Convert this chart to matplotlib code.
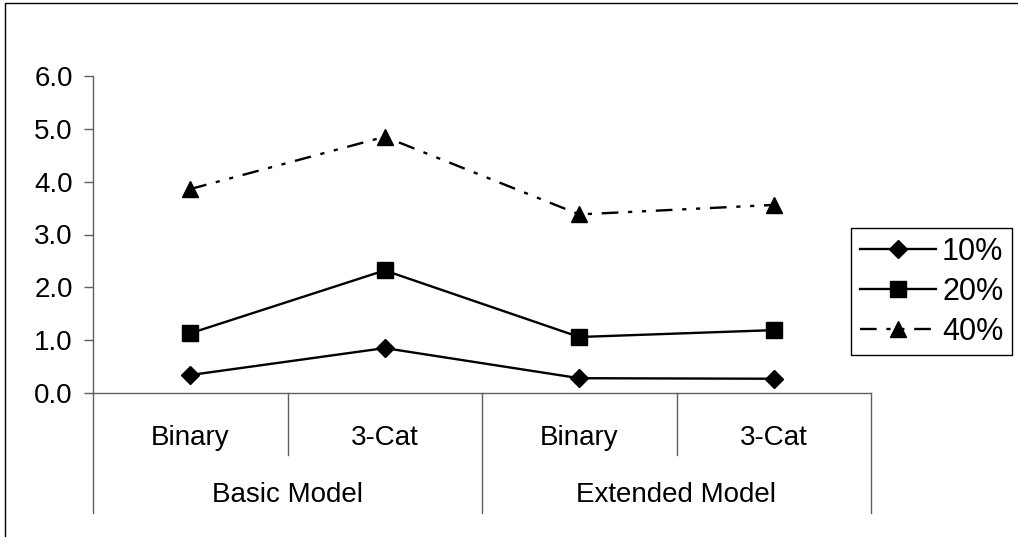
import matplotlib
matplotlib.use('Agg')
import matplotlib.pyplot as plt
import matplotlib.transforms as mtransforms
from matplotlib.patches import Rectangle

# data
models = ['Basic Model', 'Extended Model']
outcomes = ['Binary', '3-Cat', 'Binary', '3-Cat']
series_names = ['10%', '20%', '40%']
vals_10 = [0.34, 0.85, 0.28, 0.27]
vals_20 = [1.13, 2.32, 1.06, 1.19]
vals_40 = [3.86, 4.85, 3.38, 3.56]

plt.rcParams['font.family'] = ['Liberation Sans', 'DejaVu Sans']
plt.rcParams['lines.scale_dashes'] = False

W, H = 1018, 537
fig = plt.figure(figsize=(W / 100, H / 100), dpi=100)
ax = fig.add_axes([93 / W, (H - 393) / H, 778 / W, 317 / H])

axis_col = '#606060'
fs = 20
x = [i + 0.5 for i in range(len(outcomes))]

styles = [
    dict(marker='D', markersize=9.5, linestyle='-'),
    dict(marker='s', markersize=11, linestyle='-'),
    dict(marker='^', markersize=11.5, linestyle=(0, (12, 7, 3, 7, 3, 7))),
]
for name, vals, st in zip(series_names, [vals_10, vals_20, vals_40], styles):
    ax.plot(x, vals, color='black', linewidth=1.7, label=name, clip_on=False, **st)

ax.set_xlim(0, len(outcomes))
ax.set_ylim(0, 6)
ax.set_yticks(range(0, 7))
ax.set_yticklabels(['%.1f' % v for v in range(0, 7)], fontsize=fs)
ax.tick_params(axis='y', direction='out', length=6.5, width=1, color=axis_col, pad=8)
ax.set_xticks([])
for s in ['top', 'right']:
    ax.spines[s].set_visible(False)
for s in ['left', 'bottom']:
    ax.spines[s].set_color(axis_col)
    ax.spines[s].set_linewidth(1)

# two-level category axis below the plot
trans = mtransforms.blended_transform_factory(ax.transData, ax.transAxes)
px = 1 / 317
for xv in range(len(outcomes) + 1):
    low = -120 * px if xv % 2 == 0 else -62 * px
    ax.plot([xv, xv], [0, low], color=axis_col, linewidth=1, transform=trans, clip_on=False)
for xv, lab in zip(x, outcomes):
    ax.text(xv, -45 * px, lab, transform=trans, ha='center', va='center', fontsize=fs)
for i, lab in enumerate(models):
    ax.text(2 * i + 1, -102 * px, lab, transform=trans, ha='center', va='center', fontsize=fs)

leg = fig.legend(loc='upper left', bbox_to_anchor=(851 / W, 1 - 228 / H), borderaxespad=0,
                 fontsize=22, handlelength=2.5, handletextpad=0.2, labelspacing=0.33,
                 borderpad=0.28, fancybox=False, framealpha=1)
leg.get_frame().set_edgecolor('black')
leg.get_frame().set_linewidth(1)

# outer chart border (left and top edges visible)
fig.patches.append(Rectangle((5 / W, -0.2), 2, 1.2 - 3 / H, transform=fig.transFigure,
                             fill=False, edgecolor='black', linewidth=1))

fig.savefig('out.png', dpi=100)
